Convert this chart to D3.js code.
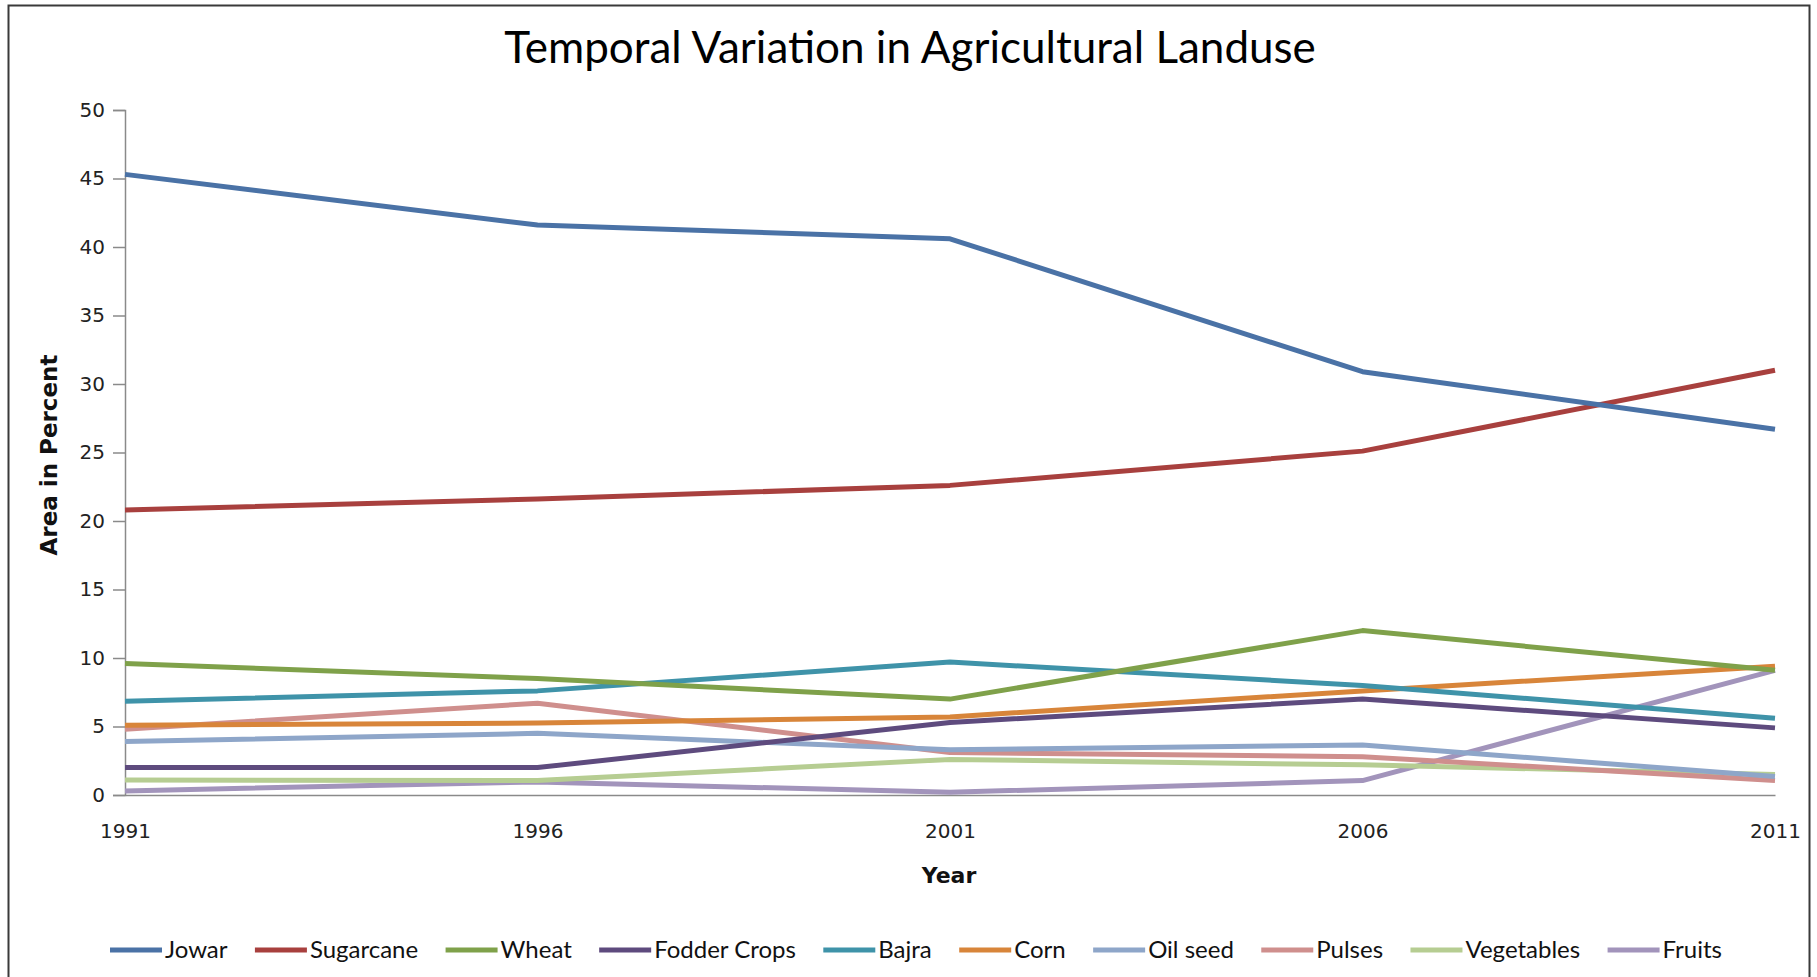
<!DOCTYPE html>
<html>
<head>
<meta charset="utf-8">
<script src="https://cdn.jsdelivr.net/npm/d3@7"></script>
<style>
  html, body { margin: 0; padding: 0; background: #ffffff; }
  svg { display: block; }
</style>
</head>
<body>
<svg id="chart" width="1817" height="977"></svg>
<script>
// Census years on the x axis
const years = [1991, 1996, 2001, 2006, 2011];

// Share of agricultural area (%) for each crop, one value per year
const jowar      = [45.3, 41.6, 40.6, 30.9, 26.7];
const sugarcane  = [20.8, 21.6, 22.6, 25.1, 31.0];
const wheat      = [9.6, 8.5, 7.0, 12.0, 9.1];
const fodder     = [2.0, 2.0, 5.3, 7.0, 4.9];
const bajra      = [6.85, 7.6, 9.7, 8.0, 5.6];
const corn       = [5.1, 5.25, 5.7, 7.6, 9.4];
const oilseed    = [3.9, 4.5, 3.3, 3.65, 1.35];
const pulses     = [4.8, 6.7, 3.1, 2.8, 1.05];
const vegetables = [1.1, 1.05, 2.6, 2.2, 1.5];
const fruits     = [0.3, 0.95, 0.2, 1.05, 9.1];

const seriesNames  = ["Jowar", "Sugarcane", "Wheat", "Fodder Crops", "Bajra",
                      "Corn", "Oil seed", "Pulses", "Vegetables", "Fruits"];
const seriesValues = [jowar, sugarcane, wheat, fodder, bajra,
                      corn, oilseed, pulses, vegetables, fruits];
const seriesColors = ["#4a72a6", "#a8403e", "#7fa14a", "#5e4b7e", "#3f93a9",
                      "#d8853a", "#8ea6c9", "#cf8f8d", "#b6cd92", "#a294bb"];

const yTicks = [0, 5, 10, 15, 20, 25, 30, 35, 40, 45, 50];

const svg = d3.select("#chart");
const W = 1817, H = 977;

// chart frame
svg.append("rect")
  .attr("x", 8.5).attr("y", 5.5)
  .attr("width", W - 16).attr("height", H + 20)
  .attr("fill", "#ffffff")
  .attr("stroke", "#3a3a3a").attr("stroke-width", 2);

const plot = { left: 125, right: 1775, top: 110, bottom: 795 };

const x = d3.scalePoint().domain(years).range([plot.left, plot.right]);
const y = d3.scaleLinear().domain([0, 50]).range([plot.bottom, plot.top]);

// title
svg.append("text")
  .attr("x", 910).attr("y", 63)
  .attr("text-anchor", "middle")
  .attr("font-family", "Lato, 'Open Sans', sans-serif")
  .attr("font-size", 44)
  .attr("fill", "#000")
  .text("Temporal Variation in Agricultural Landuse");

const tickFont = "'DejaVu Sans', Verdana, sans-serif";

// y axis
const yAxis = svg.append("g")
  .attr("transform", `translate(${plot.left},0)`)
  .call(d3.axisLeft(y).tickValues(yTicks).tickSize(12).tickPadding(8));
yAxis.select(".domain").attr("stroke", "#8a8a8a").attr("stroke-width", 1.5);
yAxis.selectAll(".tick line").attr("stroke", "#8a8a8a").attr("stroke-width", 1.5);
yAxis.selectAll(".tick text")
  .attr("font-family", tickFont)
  .attr("font-size", 20)
  .attr("fill", "#222");

// x axis
const xAxis = svg.append("g")
  .attr("transform", `translate(0,${plot.bottom})`)
  .call(d3.axisBottom(x).tickSize(0).tickPadding(29));
xAxis.select(".domain").attr("stroke", "#8a8a8a").attr("stroke-width", 1.5);
xAxis.selectAll(".tick text")
  .attr("font-family", tickFont)
  .attr("font-size", 20)
  .attr("fill", "#222");

// axis titles
svg.append("text")
  .attr("transform", `translate(49,455) rotate(-90)`)
  .attr("text-anchor", "middle")
  .attr("dy", "0.35em")
  .attr("font-family", tickFont)
  .attr("font-weight", "bold")
  .attr("font-size", 23)
  .attr("fill", "#111")
  .text("Area in Percent");

svg.append("text")
  .attr("x", 949).attr("y", 875)
  .attr("text-anchor", "middle")
  .attr("dy", "0.35em")
  .attr("font-family", tickFont)
  .attr("font-weight", "bold")
  .attr("font-size", 22)
  .attr("fill", "#111")
  .text("Year");

// series lines, drawn in reverse so Jowar sits on top
const line = d3.line()
  .x((d, i) => x(years[i]))
  .y(d => y(d));

const linesG = svg.append("g");
for (let k = seriesValues.length - 1; k >= 0; k--) {
  linesG.append("path")
    .datum(seriesValues[k])
    .attr("d", line)
    .attr("fill", "none")
    .attr("stroke", seriesColors[k])
    .attr("stroke-width", 5)
    .attr("stroke-linejoin", "round")
    .attr("stroke-linecap", "butt");
}

// legend along the bottom, spread between two fixed ends
const legend = svg.append("g");
const swatch = 52, swGap = 3, legendY = 950;
const legendLeft = 110, legendRight = 1722;
const items = legend.selectAll("g.item")
  .data(seriesNames)
  .join("g").attr("class", "item");
items.append("line")
  .attr("x1", 0).attr("x2", swatch)
  .attr("y1", 0).attr("y2", 0)
  .attr("stroke", (d, i) => seriesColors[i])
  .attr("stroke-width", 5);
items.append("text")
  .attr("x", swatch + swGap)
  .attr("dy", "0.35em")
  .attr("font-family", "Lato, 'Open Sans', sans-serif")
  .attr("font-size", 24)
  .attr("fill", "#111")
  .text(d => d);

const widths = [];
items.each(function () {
  widths.push(swatch + swGap + d3.select(this).select("text").node().getComputedTextLength());
});
const itemGap = (legendRight - legendLeft - d3.sum(widths)) / (widths.length - 1);
let cursor = legendLeft;
const positions = widths.map(w => { const p = cursor; cursor += w + itemGap; return p; });
items.attr("transform", (d, i) => `translate(${positions[i]},${legendY})`);
</script>
</body>
</html>
